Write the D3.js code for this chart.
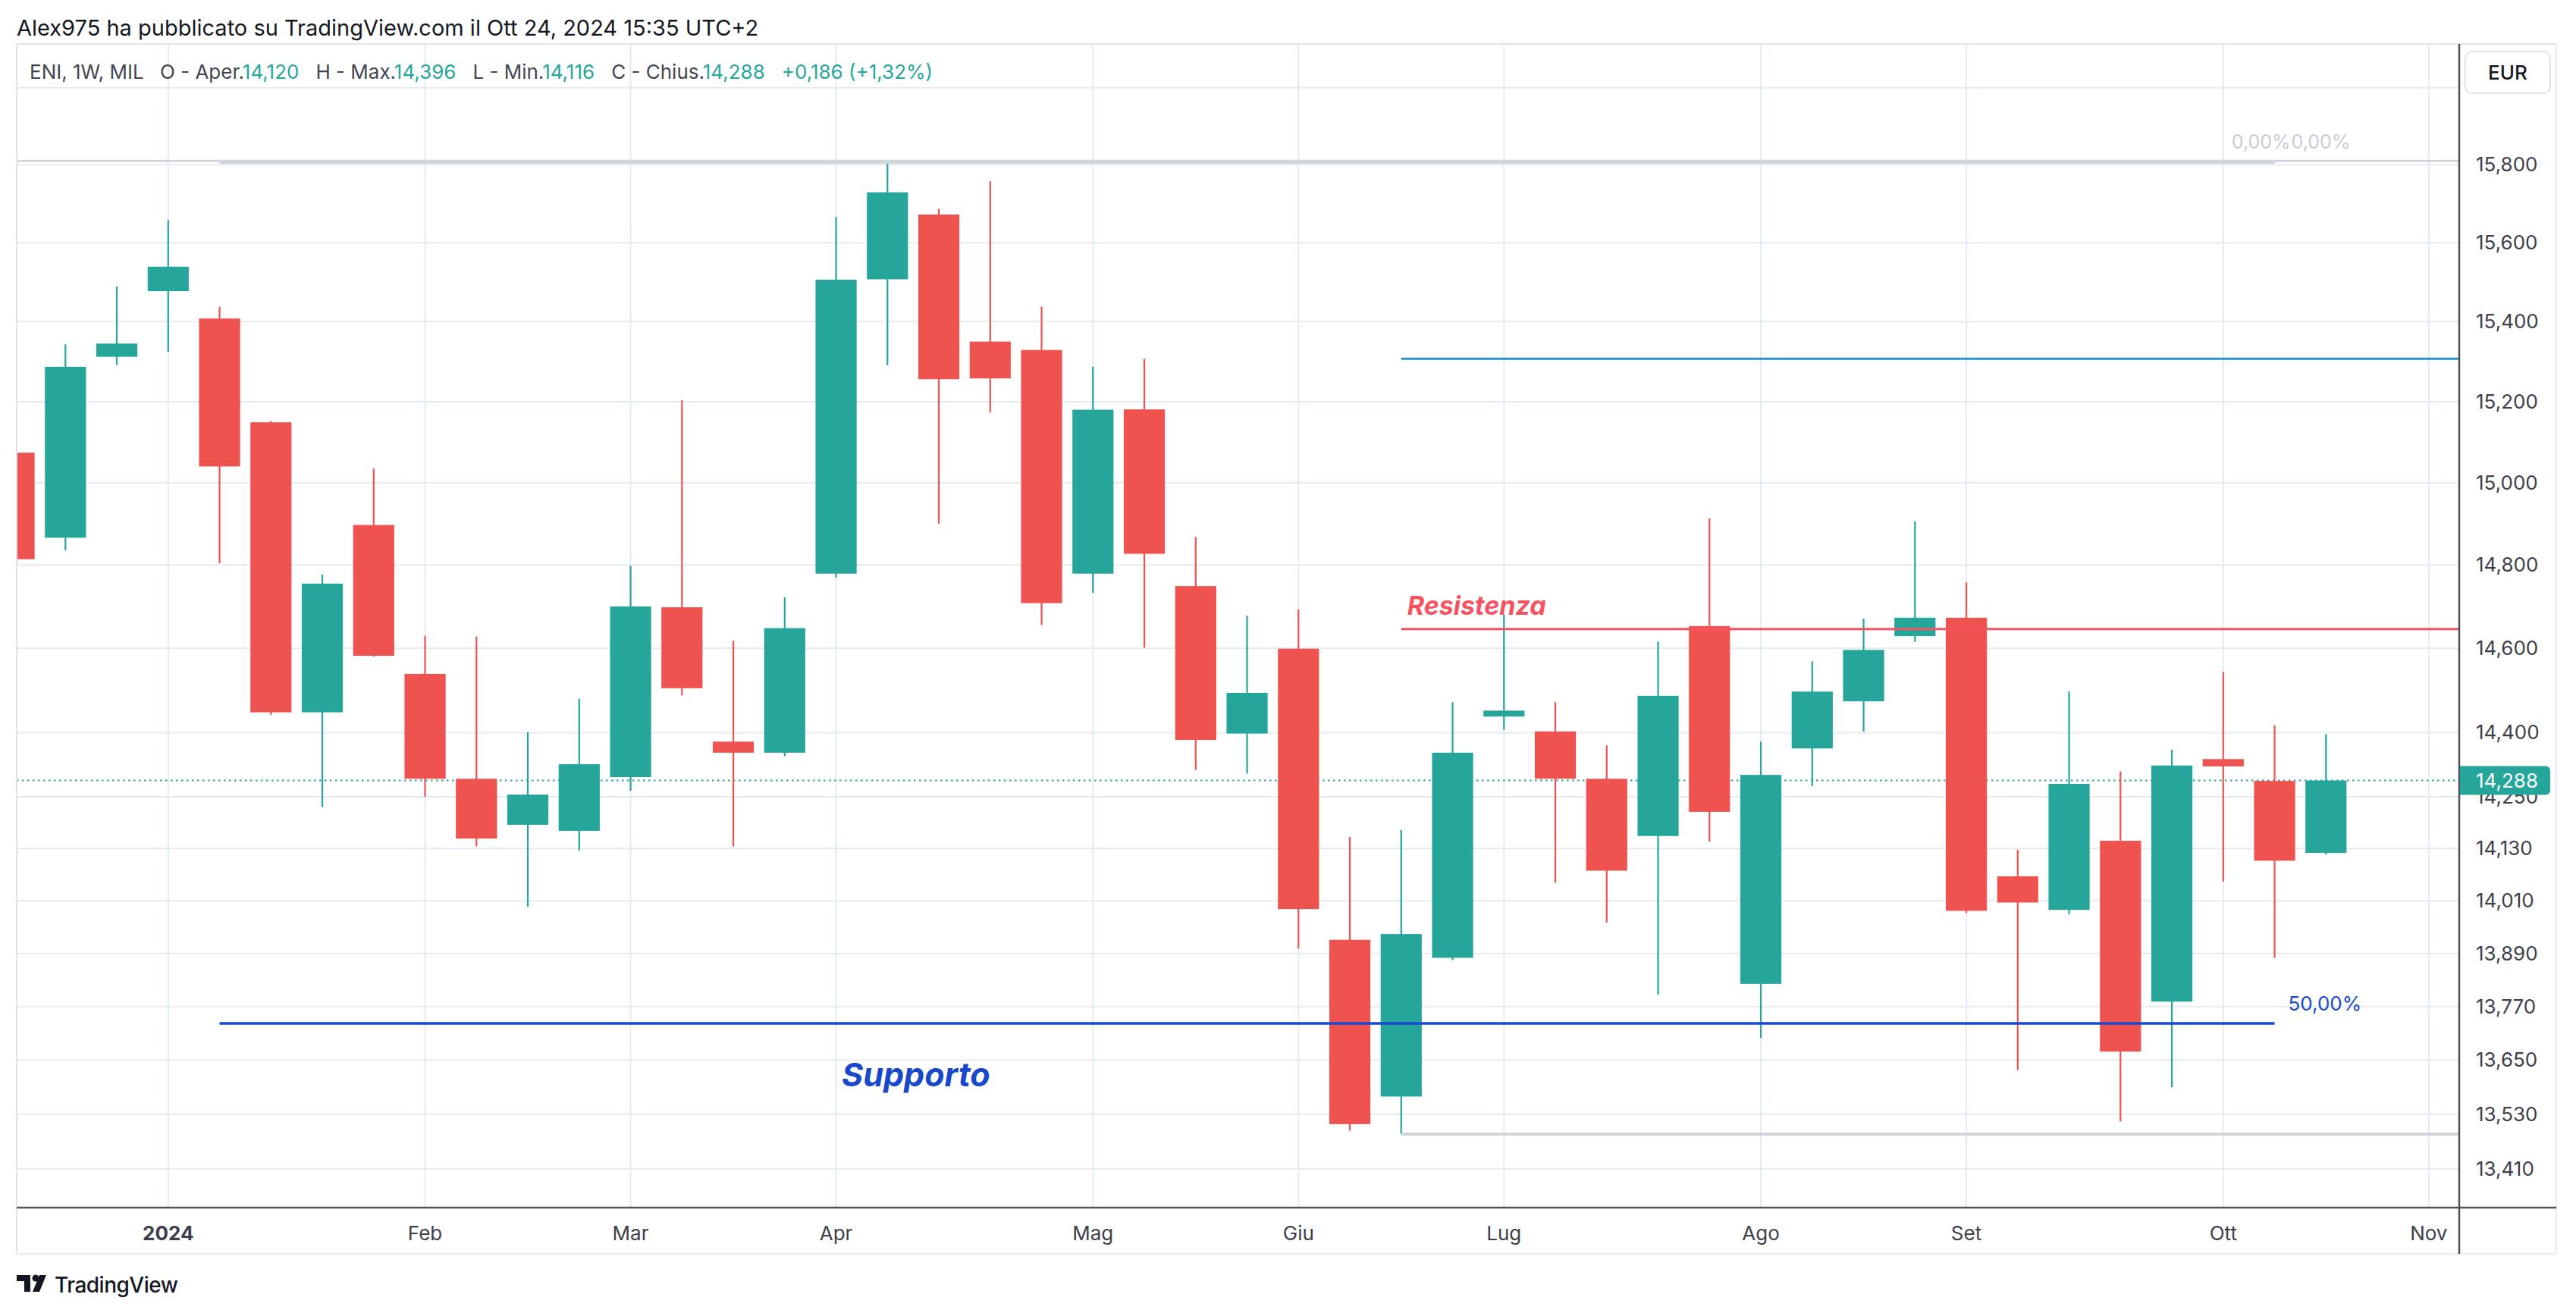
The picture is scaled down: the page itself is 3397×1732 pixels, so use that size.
<!DOCTYPE html>
<html>
<head>
<meta charset="utf-8">
<script src="https://cdn.jsdelivr.net/npm/d3@7"></script>
<style>
  html, body { margin: 0; padding: 0; background: #fff; }
  svg { display: block; }
  text { font-family: Inter, "Noto Sans", sans-serif; }
</style>
</head>
<body>
<div id="chart"></div>
<script>
'use strict';

// weekly bars, ENI (MIL), 1W
var weeks = [
  '2023-12-11', '2023-12-18', '2023-12-25', '2024-01-01', '2024-01-08', '2024-01-15',
  '2024-01-22', '2024-01-29', '2024-02-05', '2024-02-12', '2024-02-19', '2024-02-26',
  '2024-03-04', '2024-03-11', '2024-03-18', '2024-03-25', '2024-04-01', '2024-04-08',
  '2024-04-15', '2024-04-22', '2024-04-29', '2024-05-06', '2024-05-13', '2024-05-20',
  '2024-05-27', '2024-06-03', '2024-06-10', '2024-06-17', '2024-06-24', '2024-07-01',
  '2024-07-08', '2024-07-15', '2024-07-22', '2024-07-29', '2024-08-05', '2024-08-12',
  '2024-08-19', '2024-08-26', '2024-09-02', '2024-09-09', '2024-09-16', '2024-09-23',
  '2024-09-30', '2024-10-07', '2024-10-14', '2024-10-21'
];
var openPrices = [
  15.074, 14.866, 15.312, 15.477, 15.408, 15.149, 14.448, 14.897, 14.539, 14.292,
  14.185, 14.171, 14.296, 14.698, 14.379, 14.353, 14.779, 15.507, 15.672, 15.350,
  15.329, 14.779, 15.181, 14.749, 14.398, 14.599, 13.921, 13.569, 13.880, 14.438,
  14.403, 14.292, 14.159, 14.653, 13.821, 14.363, 14.474, 14.629, 14.673, 14.066,
  13.989, 14.148, 13.781, 14.338, 14.287, 14.120
];
var highPrices = [
  15.090, 15.343, 15.489, 15.658, 15.438, 15.152, 14.777, 15.035, 14.630, 14.628,
  14.401, 14.480, 14.798, 15.204, 14.618, 14.722, 15.666, 15.805, 15.687, 15.758,
  15.438, 15.287, 15.307, 14.868, 14.678, 14.693, 14.157, 14.173, 14.472, 14.681,
  14.472, 14.370, 14.616, 14.913, 14.379, 14.569, 14.671, 14.906, 14.758, 14.127,
  14.497, 14.309, 14.360, 14.544, 14.417, 14.396
];
var lowPrices = [
  14.790, 14.836, 15.292, 15.324, 14.804, 14.442, 14.226, 14.580, 14.250, 14.135,
  13.996, 14.125, 14.264, 14.488, 14.135, 14.345, 14.770, 15.291, 14.900, 15.173,
  14.656, 14.733, 14.601, 14.313, 14.304, 13.901, 13.494, 13.486, 13.875, 14.407,
  14.051, 13.960, 13.797, 14.146, 13.700, 14.275, 14.403, 14.615, 13.982, 13.628,
  13.979, 13.514, 13.590, 14.054, 13.880, 14.116
];
var closePrices = [
  14.814, 15.287, 15.345, 15.539, 15.040, 14.448, 14.755, 14.582, 14.292, 14.153,
  14.255, 14.326, 14.700, 14.505, 14.353, 14.648, 15.506, 15.729, 15.256, 15.258,
  14.708, 15.180, 14.827, 14.383, 14.494, 13.991, 13.508, 13.934, 14.353, 14.452,
  14.292, 14.079, 14.487, 14.215, 14.301, 14.497, 14.596, 14.673, 13.987, 14.006,
  14.280, 13.669, 14.323, 14.321, 14.102, 14.288
];

// axes
var monthTickDates = [
  '2024-01-01', '2024-02-05', '2024-03-04', '2024-04-01', '2024-05-06', '2024-06-03',
  '2024-07-01', '2024-08-05', '2024-09-02', '2024-10-07', '2024-11-04'
];
var monthTickLabels = [ '2024', 'Feb', 'Mar', 'Apr', 'Mag', 'Giu', 'Lug', 'Ago', 'Set', 'Ott', 'Nov' ];
var priceGridTicks = [ 16.0, 15.8, 15.6, 15.4, 15.2, 15.0, 14.8, 14.6, 14.4, 14.25,
                       14.13, 14.01, 13.89, 13.77, 13.65, 13.53, 13.41 ];
var priceLabelTicks = [ 15.8, 15.6, 15.4, 15.2, 15.0, 14.8, 14.6, 14.4, 14.25,
                        14.13, 14.01, 13.89, 13.77, 13.65, 13.53, 13.41 ];

// drawings
var fibOneStart = '2024-01-08', fibOneEnd = '2024-10-14';
var fibTwoStart = '2024-06-17';
var fibTopLevel = 15.81;
var fibHalfLevel = 13.732;
var fibLowLevel = 13.486;
var resistanceLevel = 14.646;
var upperLevel = 15.307;

var titleText = 'Alex975 ha pubblicato su TradingView.com il Ott 24, 2024 15:35 UTC+2';
var symbolText = 'ENI, 1W, MIL';

var width = 3397, height = 1732;
var plot = { left: 22, top: 58, right: 3243, bottom: 1593 };
var panel = { right: 3371, bottom: 1654 };

var colors = {
  up: '#26a69a', down: '#ef5350', grid: '#e4ebf2', frame: '#e0e3eb',
  axis: '#50535e', text: '#131722', tick: '#3d404a', fib: '#d1d4dc',
  support: '#1848cc', resistance: '#f7525f', upper: '#2992ca'
};

var parse = d3.utcParse( '%Y-%m-%d' );
var it = d3.formatLocale( { decimal: ',', thousands: '.', grouping: [ 3 ], currency: [ '€', '' ] } );
var fmt3 = it.format( '.3f' );
var fmtSigned = it.format( '+.3f' );
var fmtPct = it.format( '+.2f' );

var bars = weeks.map( function( w, i ) {
  return { date: parse( w ), o: openPrices[i], h: highPrices[i], l: lowPrices[i], c: closePrices[i] };
} );

var x = d3.scaleUtc()
    .domain( [ parse( '2023-12-11' ), parse( '2024-11-04' ) ] )
    .range( [ 18.55, 3202.8 ] );

var y = d3.scaleLog()
    .domain( [ 15.8, 13.53 ] )
    .range( [ 217.3, 1469.7 ] );

var step = x( bars[1].date ) - x( bars[0].date );
var bodyW = step * 0.8;

var svg = d3.select( '#chart' )
  .append( 'svg' )
    .attr( 'width', width )
    .attr( 'height', height );

svg.append( 'rect' ).attr( 'width', width ).attr( 'height', height ).attr( 'fill', '#fff' );

svg.append( 'clipPath' ).attr( 'id', 'plotClip' )
  .append( 'rect' )
    .attr( 'x', plot.left ).attr( 'y', plot.top )
    .attr( 'width', plot.right - plot.left ).attr( 'height', plot.bottom - plot.top );

var g = svg.append( 'g' ).attr( 'clip-path', 'url(#plotClip)' );

// grid
g.selectAll( 'line.hgrid' )
  .data( priceGridTicks )
  .enter().append( 'line' )
    .attr( 'x1', plot.left ).attr( 'x2', plot.right )
    .attr( 'y1', function( d ) { return y( d ); } )
    .attr( 'y2', function( d ) { return y( d ); } )
    .attr( 'stroke', colors.grid ).attr( 'stroke-width', 2 );

g.selectAll( 'line.vgrid' )
  .data( monthTickDates )
  .enter().append( 'line' )
    .attr( 'x1', function( d ) { return x( parse( d ) ); } )
    .attr( 'x2', function( d ) { return x( parse( d ) ); } )
    .attr( 'y1', plot.top ).attr( 'y2', plot.bottom )
    .attr( 'stroke', colors.grid ).attr( 'stroke-width', 2 );

// last price line
var last = bars[bars.length - 1];
var prev = bars[bars.length - 2];
g.append( 'line' )
  .attr( 'x1', plot.left ).attr( 'x2', plot.right )
  .attr( 'y1', y( last.c ) ).attr( 'y2', y( last.c ) )
  .attr( 'stroke', colors.up ).attr( 'stroke-width', 2 )
  .attr( 'stroke-dasharray', '2.5 4.5' );

// candles
var candle = g.selectAll( 'g.candle' )
  .data( bars )
  .enter().append( 'g' )
    .attr( 'fill', function( d ) { return d.c >= d.o ? colors.up : colors.down; } )
    .attr( 'stroke', function( d ) { return d.c >= d.o ? colors.up : colors.down; } );

candle.append( 'line' )
  .attr( 'x1', function( d ) { return x( d.date ); } )
  .attr( 'x2', function( d ) { return x( d.date ); } )
  .attr( 'y1', function( d ) { return y( d.h ); } )
  .attr( 'y2', function( d ) { return y( d.l ); } )
  .attr( 'stroke-width', 2.2 );

candle.append( 'rect' )
  .attr( 'stroke', 'none' )
  .attr( 'x', function( d ) { return x( d.date ) - bodyW / 2; } )
  .attr( 'width', bodyW )
  .attr( 'y', function( d ) { return y( Math.max( d.o, d.c ) ); } )
  .attr( 'height', function( d ) { return Math.max( 2, Math.abs( y( d.o ) - y( d.c ) ) ); } );

// drawings: fib levels and horizontal rays
function hline( x1, x2, price, color, w ) {
  g.append( 'line' )
    .attr( 'x1', x1 ).attr( 'x2', x2 )
    .attr( 'y1', y( price ) ).attr( 'y2', y( price ) )
    .attr( 'stroke', color ).attr( 'stroke-width', w );
}
var xF1a = x( parse( fibOneStart ) ), xF1b = x( parse( fibOneEnd ) ), xF2 = x( parse( fibTwoStart ) );

hline( plot.left, plot.right, fibTopLevel, colors.fib, 3 );
g.append( 'line' )
  .attr( 'x1', xF1a ).attr( 'x2', xF1b )
  .attr( 'y1', y( fibTopLevel ) + 1.5 ).attr( 'y2', y( fibTopLevel ) + 1.5 )
  .attr( 'stroke', colors.fib ).attr( 'stroke-width', 4.5 );
hline( xF2, plot.right, fibLowLevel, colors.fib, 4 );
hline( xF2, plot.right, upperLevel, colors.upper, 3 );
hline( xF2, plot.right, resistanceLevel, colors.resistance, 3 );
hline( xF1a, xF1b, fibHalfLevel, colors.support, 3.5 );

// drawing labels
svg.append( 'text' )
  .attr( 'x', xF1b + 21 ).attr( 'y', y( fibTopLevel ) - 16 )
  .attr( 'text-anchor', 'end' )
  .attr( 'font-size', 25 ).attr( 'fill', '#c8ccd5' )
  .text( '0,00%' );
svg.append( 'text' )
  .attr( 'x', xF1b + 22 ).attr( 'y', y( fibTopLevel ) - 16 )
  .attr( 'font-size', 25 ).attr( 'fill', '#c8ccd5' )
  .text( '0,00%' );
svg.append( 'text' )
  .attr( 'x', xF1b + 18 ).attr( 'y', y( fibHalfLevel ) - 17 )
  .attr( 'font-size', 26 ).attr( 'fill', colors.support )
  .text( '50,00%' );

svg.append( 'text' )
  .attr( 'x', xF2 + 8 ).attr( 'y', y( resistanceLevel ) - 19 )
  .attr( 'font-size', 34 ).attr( 'font-weight', 700 ).attr( 'font-style', 'italic' )
  .attr( 'fill', colors.resistance )
  .text( 'Resistenza' );
svg.append( 'text' )
  .attr( 'x', 1110 ).attr( 'y', y( fibHalfLevel ) + 83 )
  .attr( 'font-size', 43 ).attr( 'font-weight', 700 ).attr( 'font-style', 'italic' )
  .attr( 'fill', colors.support )
  .text( 'Supporto' );

// frame
function seg( x1, y1, x2, y2, color, w ) {
  svg.append( 'line' )
    .attr( 'x1', x1 ).attr( 'y1', y1 ).attr( 'x2', x2 ).attr( 'y2', y2 )
    .attr( 'stroke', color ).attr( 'stroke-width', w );
}
seg( plot.left, plot.top, panel.right, plot.top, colors.frame, 2 );
seg( plot.left, plot.top, plot.left, panel.bottom, colors.frame, 2 );
seg( panel.right, plot.top, panel.right, panel.bottom, '#eef0f5', 3 );
seg( plot.left, panel.bottom, panel.right, panel.bottom, '#eef0f5', 3 );
seg( plot.left, plot.bottom, panel.right, plot.bottom, colors.axis, 2.5 );
seg( plot.right, plot.top, plot.right, panel.bottom, colors.axis, 2.5 );

// price scale
svg.selectAll( 'text.ptick' )
  .data( priceLabelTicks )
  .enter().append( 'text' )
    .attr( 'x', 3265 )
    .attr( 'y', function( d ) { return y( d ) + 9; } )
    .attr( 'font-size', 26 ).attr( 'fill', colors.tick )
    .text( function( d ) { return fmt3( d ); } );

svg.append( 'path' )
  .attr( 'd', 'M' + 3244 + ',' + ( y( last.c ) - 19 ) + 'h113a6,6 0 0 1 6,6v26a6,6 0 0 1 -6,6h-113z' )
  .attr( 'fill', colors.up );
svg.append( 'text' )
  .attr( 'x', 3265 ).attr( 'y', y( last.c ) + 9 )
  .attr( 'font-size', 26 ).attr( 'fill', '#fff' )
  .text( fmt3( last.c ) );

svg.append( 'rect' )
  .attr( 'x', 3251 ).attr( 'y', 68 ).attr( 'width', 112 ).attr( 'height', 55 ).attr( 'rx', 9 )
  .attr( 'fill', '#fff' ).attr( 'stroke', colors.frame ).attr( 'stroke-width', 2 );
svg.append( 'text' )
  .attr( 'x', 3307 ).attr( 'y', 105 ).attr( 'text-anchor', 'middle' )
  .attr( 'font-size', 26 ).attr( 'font-weight', 500 ).attr( 'fill', colors.text )
  .text( 'EUR' );

// time scale
svg.selectAll( 'text.mtick' )
  .data( monthTickDates )
  .enter().append( 'text' )
    .attr( 'x', function( d ) { return x( parse( d ) ); } )
    .attr( 'y', 1636 )
    .attr( 'text-anchor', 'middle' )
    .attr( 'font-size', 26 )
    .attr( 'font-weight', function( d, i ) { return i === 0 ? 700 : 400; } )
    .attr( 'fill', colors.tick )
    .text( function( d, i ) { return monthTickLabels[i]; } );

// header
svg.append( 'text' )
  .attr( 'x', 22 ).attr( 'y', 47 )
  .attr( 'font-size', 29 ).attr( 'fill', colors.text )
  .text( titleText );

var chg = last.c - prev.c;
var legend = svg.append( 'text' )
  .attr( 'x', 39 ).attr( 'y', 104 )
  .attr( 'font-size', 26 ).attr( 'fill', '#434651' );
var valColor = last.c >= last.o ? colors.up : colors.down;
legend.append( 'tspan' ).text( symbolText );
[ [ 'O - Aper.', last.o ], [ 'H - Max.', last.h ], [ 'L - Min.', last.l ], [ 'C - Chius.', last.c ] ]
  .forEach( function( p ) {
    legend.append( 'tspan' ).attr( 'dx', 22 ).text( p[0] );
    legend.append( 'tspan' ).attr( 'fill', valColor ).text( fmt3( p[1] ) );
  } );
legend.append( 'tspan' ).attr( 'dx', 22 ).attr( 'fill', valColor )
  .text( fmtSigned( chg ) + ' (' + fmtPct( chg / prev.c * 100 ) + '%)' );

// footer logo
var logo = svg.append( 'g' ).attr( 'fill', colors.text );
logo.append( 'path' ).attr( 'd', 'M22,1682h18v22h-8v-14h-10z' );
logo.append( 'circle' ).attr( 'cx', 47 ).attr( 'cy', 1686 ).attr( 'r', 4.5 );
logo.append( 'path' ).attr( 'd', 'M52,1682h9l-9,22h-9z' );
logo.append( 'text' )
  .attr( 'x', 72 ).attr( 'y', 1705 )
  .attr( 'font-size', 28 ).attr( 'font-weight', 500 ).attr( 'letter-spacing', -0.5 )
  .text( 'TradingView' );
</script>
</body>
</html>
